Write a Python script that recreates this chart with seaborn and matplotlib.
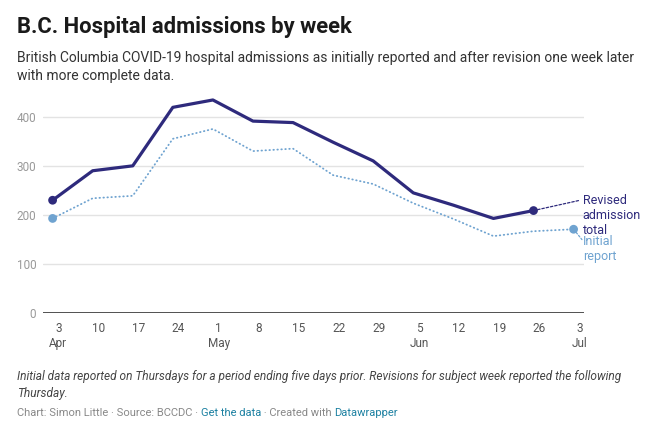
import matplotlib
matplotlib.use("Agg")
import matplotlib.pyplot as plt
import pandas as pd
import seaborn as sns

# weekly data points (Thursdays) and the axis ticks (Fridays)
data_dates = ["2020-04-02", "2020-04-09", "2020-04-16", "2020-04-23", "2020-04-30",
              "2020-05-07", "2020-05-14", "2020-05-21", "2020-05-28", "2020-06-04",
              "2020-06-11", "2020-06-18", "2020-06-25", "2020-07-02"]
revised = [230, 290, 300, 419, 434, 391, 388, 348, 310, 245, 220, 193, 209]
initial = [193, 234, 239, 355, 375, 330, 335, 281, 263, 224, 192, 157, 167, 171]

tick_dates = ["2020-04-03", "2020-04-10", "2020-04-17", "2020-04-24", "2020-05-01",
              "2020-05-08", "2020-05-15", "2020-05-22", "2020-05-29", "2020-06-05",
              "2020-06-12", "2020-06-19", "2020-06-26", "2020-07-03"]
tick_days = ["3", "10", "17", "24", "1", "8", "15", "22", "29", "5", "12", "19", "26", "3"]
tick_months = ["Apr", "", "", "", "May", "", "", "", "", "Jun", "", "", "", "Jul"]
y_ticks = [0, 100, 200, 300, 400]

DARK = "#2e2a7c"
LIGHT = "#6fa3d0"

sns.set_theme(style="white")
plt.rcParams["font.family"] = ["Roboto", "DejaVu Sans"]

df_rev = pd.DataFrame({"date": pd.to_datetime(data_dates[:len(revised)]), "value": revised})
df_init = pd.DataFrame({"date": pd.to_datetime(data_dates[:len(initial)]), "value": initial})

fig = plt.figure(figsize=(6.58, 4.30), dpi=100, facecolor="white")
ax = fig.add_axes([0.0658, 0.2714, 0.8217, 0.5144])

# gridlines
for v in y_ticks[1:]:
    ax.axhline(v, color="#e3e3e3", lw=1, zorder=0)
ax.axhline(0, color="#222222", lw=1.1, zorder=1)

sns.lineplot(data=df_init, x="date", y="value", ax=ax, color=LIGHT, lw=1.3,
             linestyle=(0, (0.3, 1.9)), dash_capstyle="round", zorder=2)
sns.lineplot(data=df_rev, x="date", y="value", ax=ax, color=DARK, lw=2.3, zorder=3)
sns.scatterplot(data=df_init.iloc[[0, -1]], x="date", y="value", ax=ax, color=LIGHT,
                s=40, edgecolor="none", zorder=4)
sns.scatterplot(data=df_rev.iloc[[0, -1]], x="date", y="value", ax=ax, color=DARK,
                s=40, edgecolor="none", zorder=4)

ax.set_xlim(pd.Timestamp("2020-03-31 09:00"), pd.Timestamp("2020-07-03 19:30"))
ax.set_ylim(0, 450)
ax.set_yticks(y_ticks)
ax.set_yticklabels([str(v) for v in y_ticks], color="#999999", fontsize=8.5)
ax.set_xticks(pd.to_datetime(tick_dates))
ax.set_xticklabels([d + ("\n" + m if m else "") for d, m in zip(tick_days, tick_months)],
                   color="#555555", fontsize=8.5, linespacing=1.25, va="top",
                   multialignment="center")
ax.tick_params(axis="both", length=0)
ax.tick_params(axis="x", pad=6)
ax.tick_params(axis="y", pad=5)
ax.set_xlabel("")
ax.set_ylabel("")
for s in ax.spines.values():
    s.set_visible(False)

# direct labels with leader lines
ax.annotate("", xy=(pd.Timestamp("2020-07-03 03:00"), 230), xytext=(df_rev["date"].iloc[-1], revised[-1]),
            arrowprops=dict(arrowstyle="-", color=DARK, lw=0.9, linestyle=(0, (2, 1.5)),
                            shrinkA=3, shrinkB=0), annotation_clip=False)
ax.annotate("", xy=(pd.Timestamp("2020-07-03 11:00"), 150), xytext=(df_init["date"].iloc[-1], initial[-1]),
            arrowprops=dict(arrowstyle="-", color=LIGHT, lw=0.9, linestyle=(0, (1.5, 1.5)),
                            shrinkA=3, shrinkB=0), annotation_clip=False)
ax.text(pd.Timestamp("2020-07-03 14:00"), 198, "Revised\nadmission\ntotal", color=DARK,
        fontsize=9, ha="left", va="center", linespacing=1.2, clip_on=False)
ax.text(pd.Timestamp("2020-07-03 14:00"), 130, "Initial\nreport", color=LIGHT,
        fontsize=9, ha="left", va="center", linespacing=1.2, clip_on=False)

# header
fig.text(17 / 658, 1 - 33 / 430, "B.C. Hospital admissions by week", fontsize=15.8,
         fontweight="bold", color="#1a1a1a", va="baseline")
fig.text(17 / 658, 1 - 62 / 430,
         "British Columbia COVID-19 hospital admissions as initially reported and after revision one week later",
         fontsize=10, color="#333333", va="baseline")
fig.text(17 / 658, 1 - 80 / 430, "with more complete data.", fontsize=10, color="#333333", va="baseline")

# footer
fig.text(17 / 658, 1 - 380 / 430,
         "Initial data reported on Thursdays for a period ending five days prior. Revisions for subject week reported the following",
         fontsize=8.6, style="italic", color="#444444", va="baseline")
fig.text(17 / 658, 1 - 397 / 430, "Thursday.", fontsize=8.6, style="italic", color="#444444", va="baseline")

renderer = fig.canvas.get_renderer()


def piece_width(s, **kw):
    a = fig.text(0, 0, s + "|", **kw)
    b = fig.text(0, 0, "|", **kw)
    w = a.get_window_extent(renderer).width - b.get_window_extent(renderer).width
    a.remove()
    b.remove()
    return w / fig.bbox.width


credit = [("Chart: Simon Little · Source: BCCDC · ", "#888888"), ("Get the data", "#1d81a2"),
          (" · Created with ", "#888888"), ("Datawrapper", "#1d81a2")]
x = 17 / 658
for s, c in credit:
    fig.text(x, 1 - 416 / 430, s, fontsize=8.0, color=c, va="baseline")
    x += piece_width(s, fontsize=8.0)

fig.savefig("out.png", dpi=100, facecolor="white")
